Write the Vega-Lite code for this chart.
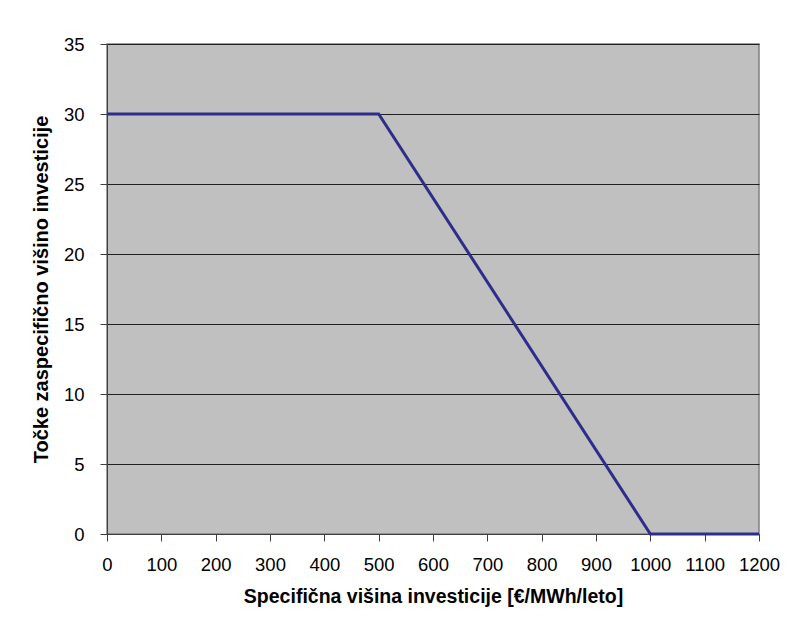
{
  "$schema": "https://vega.github.io/schema/vega-lite/v6.json",
  "width": 652,
  "height": 490,
  "autosize": {"type": "none"},
  "padding": {"left": 107, "top": 44, "right": 33, "bottom": 98},
  "background": "white",
  "config": {
    "font": "Liberation Sans",
    "view": {"fill": "#C0C0C0", "stroke": "#808080", "strokeWidth": 1.5}
  },
  "data": {
    "values": [
      {"x": 0, "y": 30},
      {"x": 500, "y": 30},
      {"x": 1000, "y": 0},
      {"x": 1200, "y": 0}
    ]
  },
  "mark": {"type": "line", "color": "#2E2E8A", "strokeWidth": 3, "clip": false},
  "encoding": {
    "x": {
      "field": "x",
      "type": "quantitative",
      "scale": {"domain": [0, 1200], "nice": false, "zero": false},
      "axis": {
        "values": [0, 100, 200, 300, 400, 500, 600, 700, 800, 900, 1000, 1100, 1200],
        "format": "d",
        "title": "Specifična višina investicije [€/MWh/leto]",
        "titleFont": "Liberation Sans",
        "titleFontSize": 19.5,
        "titleFontWeight": "bold",
        "titleColor": "black",
        "titlePadding": 14,
        "labelFont": "Liberation Sans",
        "labelFontSize": 18.5,
        "labelColor": "black",
        "labelPadding": 14,
        "labelFlush": false,
        "tickColor": "#404040",
        "tickSize": 7,
        "domainColor": "#404040",
        "grid": false
      }
    },
    "y": {
      "field": "y",
      "type": "quantitative",
      "scale": {"domain": [0, 35], "nice": false},
      "axis": {
        "values": [0, 5, 10, 15, 20, 25, 30, 35],
        "title": "Točke zaspecifično višino investicije",
        "titleFont": "Liberation Sans",
        "titleFontSize": 20,
        "titleFontWeight": "bold",
        "titleColor": "black",
        "titlePadding": 12,
        "labelFont": "Liberation Sans",
        "labelFontSize": 18.5,
        "labelColor": "black",
        "labelPadding": 16,
        "labelFlush": false,
        "tickColor": "#404040",
        "tickSize": 7,
        "domainColor": "#404040",
        "grid": true,
        "gridColor": "#202020",
        "gridWidth": 1
      }
    }
  }
}
